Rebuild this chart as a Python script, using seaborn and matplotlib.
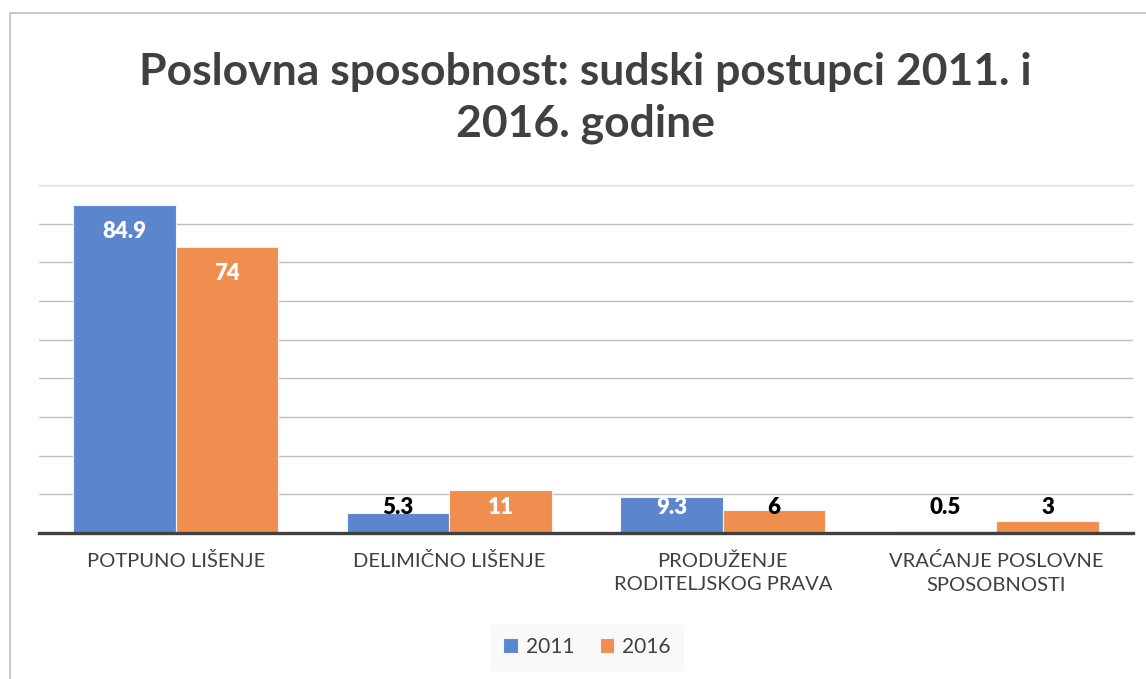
import matplotlib
matplotlib.use("Agg")
import matplotlib.pyplot as plt
import seaborn as sns
import pandas as pd
from matplotlib.lines import Line2D

categories = ["POTPUNO LIŠENJE", "DELIMIČNO LIŠENJE", "PRODUŽENJE\nRODITELJSKOG PRAVA", "VRAĆANJE POSLOVNE\nSPOSOBNOSTI"]
values_2011 = [84.9, 5.3, 9.3, 0.5]
values_2016 = [74, 11, 6, 3]
series = ["2011", "2016"]
title = "Poslovna sposobnost: sudski postupci 2011. i\n2016. godine"

df = pd.DataFrame({
    "cat": categories * 2,
    "val": values_2011 + values_2016,
    "year": [series[0]] * 4 + [series[1]] * 4,
})

sns.set_theme(style="white")
plt.rcParams["font.family"] = ["Lato", "DejaVu Sans"]

fig = plt.figure(figsize=(11.46, 6.79), dpi=100)
ax = fig.add_axes([39/1146, 1-533/679, (1133-39)/1146, (533-185)/679])

palette = {"2011": "#5B86CE", "2016": "#EF8E4E"}
sns.barplot(data=df, x="cat", y="val", hue="year", palette=palette, ax=ax,
            width=0.75, edgecolor="#f4f4f4", linewidth=0.8, saturation=1, legend=True)

ax.set_ylim(0, 90)
ax.set_yticks(range(0, 91, 10))
ax.set_yticklabels([])
ax.tick_params(axis="y", length=0)
ax.yaxis.grid(True, color="#BFBFBF", linewidth=1)
ax.set_axisbelow(True)
ax.set_xlabel("")
ax.set_ylabel("")
for s in ["left", "right"]:
    ax.spines[s].set_visible(False)
ax.spines["top"].set_color("#E2E2E2")
ax.spines["top"].set_linewidth(1)
ax.spines["bottom"].set_color("#404040")
ax.spines["bottom"].set_linewidth(2.4)
ax.tick_params(axis="x", length=0, pad=14, labelsize=14.5, labelcolor="#404040")
for lbl in ax.get_xticklabels():
    lbl.set_linespacing(1.45)

for container in ax.containers:
    for bar in container:
        v = bar.get_height()
        x = bar.get_x() + bar.get_width() / 2
        y = max(v - 6.8, 6.6)
        color = "white" if v > 9 else "black"
        ax.text(x, y, f"{v:g}", ha="center", va="center", fontsize=16,
                fontweight="heavy", color=color)

leg = ax.legend(loc="center", bbox_to_anchor=(587/1146, 1-647/679), bbox_transform=fig.transFigure,
                ncol=2, frameon=True, fontsize=15, handlelength=0.7, handleheight=0.7,
                handletextpad=0.4, columnspacing=1.2, borderpad=0.6)
leg.get_frame().set_facecolor("#F8F8F8")
leg.get_frame().set_edgecolor("#F8F8F8")
leg.get_frame().set_boxstyle("square", pad=0)
for t in leg.get_texts():
    t.set_color("#404040")

fig.text(585/1146, 1-98/679, title, ha="center", va="center", fontsize=32, fontweight="bold",
         color="#404040", linespacing=1.35)

fig.add_artist(Line2D([10/1146, 10/1146], [0, 1-13/679], transform=fig.transFigure, color="#BFBFBF", linewidth=1.2))
fig.add_artist(Line2D([10/1146, 1], [1-13/679, 1-13/679], transform=fig.transFigure, color="#BFBFBF", linewidth=1.2))

fig.savefig("out.png", dpi=100)
